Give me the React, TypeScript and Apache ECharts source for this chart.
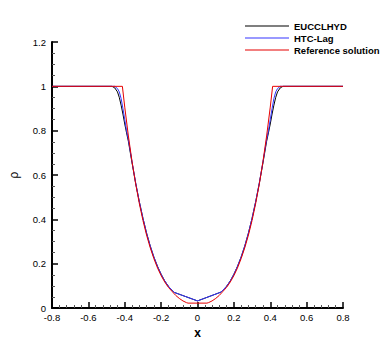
import React, { useEffect, useRef } from "react";
import * as echarts from "echarts";

const xTicks = [-0.8, -0.6, -0.4, -0.2, 0, 0.2, 0.4, 0.6, 0.8];
const yTicks = [0, 0.2, 0.4, 0.6, 0.8, 1, 1.2];
const seriesNames = ["EUCCLHYD", "HTC-Lag", "Reference solution"];

const eucX = [-0.8, -0.47, -0.455, -0.44, -0.43, -0.42, -0.41, -0.4, -0.39, -0.38, -0.36, -0.34, -0.32, -0.3, -0.28, -0.26, -0.24, -0.22, -0.2, -0.18, -0.16, -0.13, 0, 0.13, 0.16, 0.18, 0.2, 0.22, 0.24, 0.26, 0.28, 0.3, 0.32, 0.34, 0.36, 0.38, 0.39, 0.4, 0.41, 0.42, 0.43, 0.44, 0.455, 0.47, 0.8];
const eucY = [1, 1, 0.993, 0.975, 0.95, 0.915, 0.875, 0.83, 0.79, 0.752, 0.655, 0.563, 0.48, 0.405, 0.338, 0.28, 0.23, 0.188, 0.152, 0.122, 0.098, 0.071, 0.032, 0.072, 0.098, 0.122, 0.152, 0.188, 0.23, 0.28, 0.338, 0.405, 0.48, 0.563, 0.655, 0.752, 0.79, 0.83, 0.875, 0.915, 0.95, 0.975, 0.993, 1, 1];

const htcX = [-0.8, -0.455, -0.44, -0.43, -0.42, -0.41, -0.4, -0.39, -0.38, -0.36, -0.34, -0.32, -0.3, -0.28, -0.26, -0.24, -0.22, -0.2, -0.18, -0.16, -0.13, 0, 0.13, 0.16, 0.18, 0.2, 0.22, 0.24, 0.26, 0.28, 0.3, 0.32, 0.34, 0.36, 0.38, 0.39, 0.4, 0.41, 0.42, 0.43, 0.44, 0.455, 0.8];
const htcY = [1, 1, 0.99, 0.975, 0.945, 0.9, 0.85, 0.8, 0.76, 0.66, 0.565, 0.48, 0.405, 0.338, 0.28, 0.23, 0.188, 0.152, 0.122, 0.098, 0.071, 0.032, 0.072, 0.098, 0.122, 0.152, 0.188, 0.23, 0.28, 0.338, 0.405, 0.48, 0.565, 0.66, 0.76, 0.8, 0.85, 0.9, 0.945, 0.975, 0.99, 1, 1];

const refX = [-0.8, -0.413, -0.4, -0.38, -0.36, -0.34, -0.32, -0.3, -0.28, -0.26, -0.24, -0.22, -0.2, -0.18, -0.16, -0.14, -0.12, -0.1, -0.08, -0.06, -0.052, 0.052, 0.06, 0.08, 0.1, 0.12, 0.14, 0.16, 0.18, 0.2, 0.22, 0.24, 0.26, 0.28, 0.3, 0.32, 0.34, 0.36, 0.38, 0.4, 0.413, 0.8];
const refY = [1, 1, 0.906, 0.776, 0.661, 0.56, 0.472, 0.395, 0.329, 0.272, 0.223, 0.181, 0.146, 0.117, 0.093, 0.075, 0.057, 0.043, 0.032, 0.024, 0.022, 0.022, 0.024, 0.032, 0.043, 0.057, 0.075, 0.093, 0.117, 0.146, 0.181, 0.223, 0.272, 0.329, 0.395, 0.472, 0.56, 0.661, 0.776, 0.906, 1, 1];

const zip = (xs: number[], ys: number[]) => xs.map((x, i) => [x, ys[i]]);

export default function App() {
  const ref = useRef<HTMLDivElement>(null);
  useEffect(() => {
    document.body.style.margin = "0";
    const chart = echarts.init(ref.current!, undefined, { renderer: "svg" });
    const font = "Arial, 'Liberation Sans', Helvetica, sans-serif";
    chart.setOption({
      animation: false,
      backgroundColor: "#ffffff",
      grid: { left: 52, right: 47, top: 42, bottom: 39, containLabel: false },
      legend: {
        orient: "vertical",
        left: 240,
        top: 15,
        icon: "rect",
        itemWidth: 44,
        itemHeight: 1,
        itemGap: 0,
        data: seriesNames,
        textStyle: { fontFamily: font, fontWeight: "bold", fontSize: 9.5, color: "#000", lineHeight: 12 },
      },
      xAxis: {
        type: "value",
        min: xTicks[0],
        max: xTicks[xTicks.length - 1],
        interval: 0.2,
        name: "x",
        nameLocation: "middle",
        nameGap: 19,
        nameTextStyle: { fontFamily: font, fontWeight: "bold", fontSize: 12, color: "#000" },
        axisLine: { show: true, onZero: false, lineStyle: { color: "#000", width: 2 } },
        axisTick: { show: true, inside: true, length: 6, lineStyle: { color: "#000", width: 1.5 } },
        minorTick: { show: true, splitNumber: 5, length: 3, lineStyle: { color: "#555", width: 1 } },
        axisLabel: { margin: 4, fontFamily: font, fontSize: 9.5, color: "#000" },
        splitLine: { show: false },
      },
      yAxis: {
        type: "value",
        min: yTicks[0],
        max: yTicks[yTicks.length - 1],
        interval: 0.2,
        name: "ρ",
        nameLocation: "middle",
        nameGap: 32,
        nameRotate: 90,
        nameTextStyle: { fontFamily: font, fontSize: 12, color: "#000" },
        axisLine: { show: true, onZero: false, lineStyle: { color: "#000", width: 2 } },
        axisTick: { show: true, inside: true, length: 6, lineStyle: { color: "#000", width: 1.5 } },
        minorTick: { show: true, splitNumber: 4, length: 3, lineStyle: { color: "#555", width: 1 } },
        axisLabel: { margin: 6, fontFamily: font, fontSize: 9.5, color: "#000" },
        splitLine: { show: false },
      },
      series: [
        {
          name: seriesNames[0], type: "line", symbol: "none", data: zip(eucX, eucY),
          lineStyle: { color: "#000000", width: 1 }, itemStyle: { color: "#000000" },
        },
        {
          name: seriesNames[1], type: "line", symbol: "none", data: zip(htcX, htcY),
          lineStyle: { color: "#3535ff", width: 1 }, itemStyle: { color: "#3535ff" },
        },
        {
          name: seriesNames[2], type: "line", symbol: "none", data: zip(refX, refY),
          lineStyle: { color: "#e60000", width: 1 }, itemStyle: { color: "#e60000" },
        },
      ],
    });
    return () => chart.dispose();
  }, []);
  return <div ref={ref} style={{ width: 390, height: 347, position: "absolute", left: 0, top: 0 }} />;
}
